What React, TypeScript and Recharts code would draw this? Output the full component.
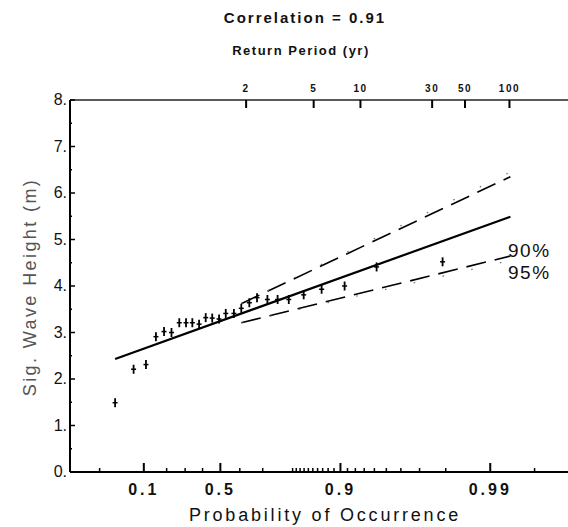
import React from 'react';
import { ComposedChart, XAxis, YAxis, Line, Scatter } from 'recharts';

// Observed annual maxima: plotting probability and significant wave height (m)
const probability = [0.027, 0.067, 0.108, 0.149, 0.187, 0.225, 0.267, 0.305, 0.341, 0.38, 0.418, 0.455, 0.493, 0.529, 0.571, 0.607, 0.644, 0.677, 0.718, 0.754, 0.789, 0.829, 0.868, 0.906, 0.942, 0.979];
const waveHeight = [1.49, 2.21, 2.31, 2.91, 3.02, 3.0, 3.21, 3.21, 3.21, 3.18, 3.32, 3.31, 3.29, 3.41, 3.41, 3.52, 3.64, 3.75, 3.71, 3.71, 3.71, 3.81, 3.93, 4.0, 4.41, 4.52];

// Fitted Gumbel line
const fitProb = [0.027, 0.9927];
const fitHeight = [2.43, 5.49];

// Confidence limits
const bandProb = [0.607, 0.9927];
const upper90 = [3.62, 6.35];
const lower90 = [3.21, 4.645];
const upper95 = [3.62, 6.45];
const lower95 = [3.21, 4.55];

// Axis ticks
const majorProb = [0.1, 0.5, 0.9, 0.99];
const majorLabels = ['0.1', '0.5', '0.9', '0.99'];
const minorProb = [0.01, 0.2, 0.3, 0.4, 0.6, 0.7, 0.8, 0.81, 0.82, 0.83, 0.84, 0.85, 0.86, 0.87, 0.88, 0.89, 0.91, 0.92, 0.93, 0.94, 0.95, 0.96, 0.97, 0.98, 0.995];
const returnPeriods = [2, 5, 10, 30, 50, 100];
const eventsPerYear = 1.35;
const heightTicks = [0, 0.5, 1, 1.5, 2, 2.5, 3, 3.5, 4, 4.5, 5, 5.5, 6, 6.5, 7, 7.5, 8];

const gumbel = (p: number) => -Math.log(-Math.log(p));
const X_DOMAIN: [number, number] = [-1.992, 5.82];

const points = probability.map((p, i) => ({ x: gumbel(p), h: waveHeight[i] }));
const mk = (ps: number[], hs: number[]) => ps.map((p, i) => ({ x: gumbel(p), h: hs[i] }));
const fitData = mk(fitProb, fitHeight);
const up90 = mk(bandProb, upper90);
const lo90 = mk(bandProb, lower90);
const up95 = mk(bandProb, upper95);
const lo95 = mk(bandProb, lower95);

const labelMap = new Map<number, string>();
majorProb.forEach((p, i) => labelMap.set(gumbel(p), majorLabels[i]));
const bottomTicks = [...majorProb, ...minorProb].map(gumbel).sort((a, b) => a - b);

const topMap = new Map<number, string>();
returnPeriods.forEach((t) => topMap.set(gumbel(1 - 1 / (eventsPerYear * t)), String(t)));
const topTicks = Array.from(topMap.keys());

const FONT = '"Liberation Sans", Arial, Helvetica, sans-serif';

const BottomTick = (props: any) => {
  const { x, y, payload } = props;
  const label = labelMap.get(payload.value);
  const len = label ? 9 : 4;
  return (
    <g>
      <line x1={x} y1={y} x2={x} y2={y - len} stroke="#000" strokeWidth={label ? 2 : 1.5} />
      {label && (
        <text x={x} y={y + 23} textAnchor="middle" fontSize={16} fontWeight="bold" letterSpacing={3} fill="#111" fontFamily={FONT}>
          {label}
        </text>
      )}
    </g>
  );
};

const TopTick = (props: any) => {
  const { x, y, payload } = props;
  const label = topMap.get(payload.value);
  return (
    <g>
      <line x1={x} y1={y} x2={x} y2={y + 8} stroke="#000" strokeWidth={2} />
      <text x={x} y={y - 8} textAnchor="middle" fontSize={10} fontWeight="bold" letterSpacing={1.5} fill="#111" fontFamily={FONT}>
        {label}
      </text>
    </g>
  );
};

const LeftTick = (props: any) => {
  const { x, y, payload } = props;
  const v = payload.value as number;
  const major = Number.isInteger(v);
  return (
    <g>
      <line x1={x} y1={y} x2={x + (major ? 5 : 2)} y2={y} stroke="#000" strokeWidth={1.5} />
      {major && (
        <text x={x - 3} y={y + 5} textAnchor="end" fontSize={16} fill="#111" fontFamily={FONT}>
          {`${v}.`}
        </text>
      )}
    </g>
  );
};

const Cross = (props: any) => {
  const { cx, cy } = props;
  return (
    <g>
      <line x1={cx} y1={cy - 4.5} x2={cx} y2={cy + 4.5} stroke="#000" strokeWidth={1.8} />
      <line x1={cx - 2.5} y1={cy} x2={cx + 2.5} y2={cy} stroke="#000" strokeWidth={1.5} />
    </g>
  );
};

export default function App() {
  return (
    <div style={{ position: 'absolute', left: 0, top: 0, width: 568, height: 527, background: '#fff' }}>
      <ComposedChart width={568} height={527} margin={{ top: 0, right: 0, bottom: 0, left: 0 }}>
        <XAxis
          xAxisId={0}
          dataKey="x"
          type="number"
          domain={X_DOMAIN}
          allowDataOverflow
          ticks={bottomTicks}
          interval={0}
          height={55}
          tickSize={0}
          tickMargin={0}
          tickLine={false}
          tick={<BottomTick />}
          axisLine={{ stroke: '#000', strokeWidth: 2 }}
        />
        <XAxis
          xAxisId="top"
          orientation="top"
          dataKey="x"
          type="number"
          domain={X_DOMAIN}
          allowDataOverflow
          ticks={topTicks}
          interval={0}
          height={100}
          tickSize={0}
          tickMargin={0}
          tickLine={false}
          tick={<TopTick />}
          axisLine={{ stroke: '#222', strokeWidth: 1.3 }}
        />
        <YAxis
          dataKey="h"
          type="number"
          domain={[0, 8]}
          ticks={heightTicks}
          interval={0}
          width={70}
          tickSize={0}
          tickMargin={0}
          tickLine={false}
          tick={<LeftTick />}
          axisLine={{ stroke: '#000', strokeWidth: 2 }}
        />
        <Line data={fitData} dataKey="h" stroke="#000" strokeWidth={2.2} dot={false} isAnimationActive={false} />
        <Line data={up90} dataKey="h" stroke="#000" strokeWidth={1.6} strokeDasharray="20 9" dot={false} isAnimationActive={false} />
        <Line data={lo90} dataKey="h" stroke="#000" strokeWidth={1.6} strokeDasharray="20 9" dot={false} isAnimationActive={false} />
        <Line data={up95} dataKey="h" stroke="#666" strokeWidth={1.2} strokeDasharray="1.5 28" dot={false} isAnimationActive={false} />
        <Line data={lo95} dataKey="h" stroke="#666" strokeWidth={1.2} strokeDasharray="1.5 28" dot={false} isAnimationActive={false} />
        <Line xAxisId="top" data={fitData} dataKey="h" stroke="none" dot={false} isAnimationActive={false} />
        <Scatter data={points} dataKey="h" shape={<Cross />} isAnimationActive={false} />
        <text x={305} y={23} textAnchor="middle" fontSize={15} fontWeight="bold" letterSpacing={2} fill="#111" fontFamily={FONT}>
          Correlation = 0.91
        </text>
        <text x={301} y={55} textAnchor="middle" fontSize={13} fontWeight="bold" letterSpacing={1.5} fill="#111" fontFamily={FONT}>
          Return Period (yr)
        </text>
        <text x={325} y={521} textAnchor="middle" fontSize={18} letterSpacing={2.8} fill="#111" fontFamily={FONT}>
          Probability of Occurrence
        </text>
        <text x={36} y={287} transform="rotate(-90 36 287)" textAnchor="middle" fontSize={18} letterSpacing={2.4} fill="#555" fontFamily={FONT}>
          Sig. Wave Height (m)
        </text>
        <text x={508} y={257} fontSize={19} letterSpacing={1.5} fill="#111" fontFamily={FONT}>
          90%
        </text>
        <text x={508} y={279} fontSize={19} letterSpacing={1.5} fill="#111" fontFamily={FONT}>
          95%
        </text>
      </ComposedChart>
    </div>
  );
}
